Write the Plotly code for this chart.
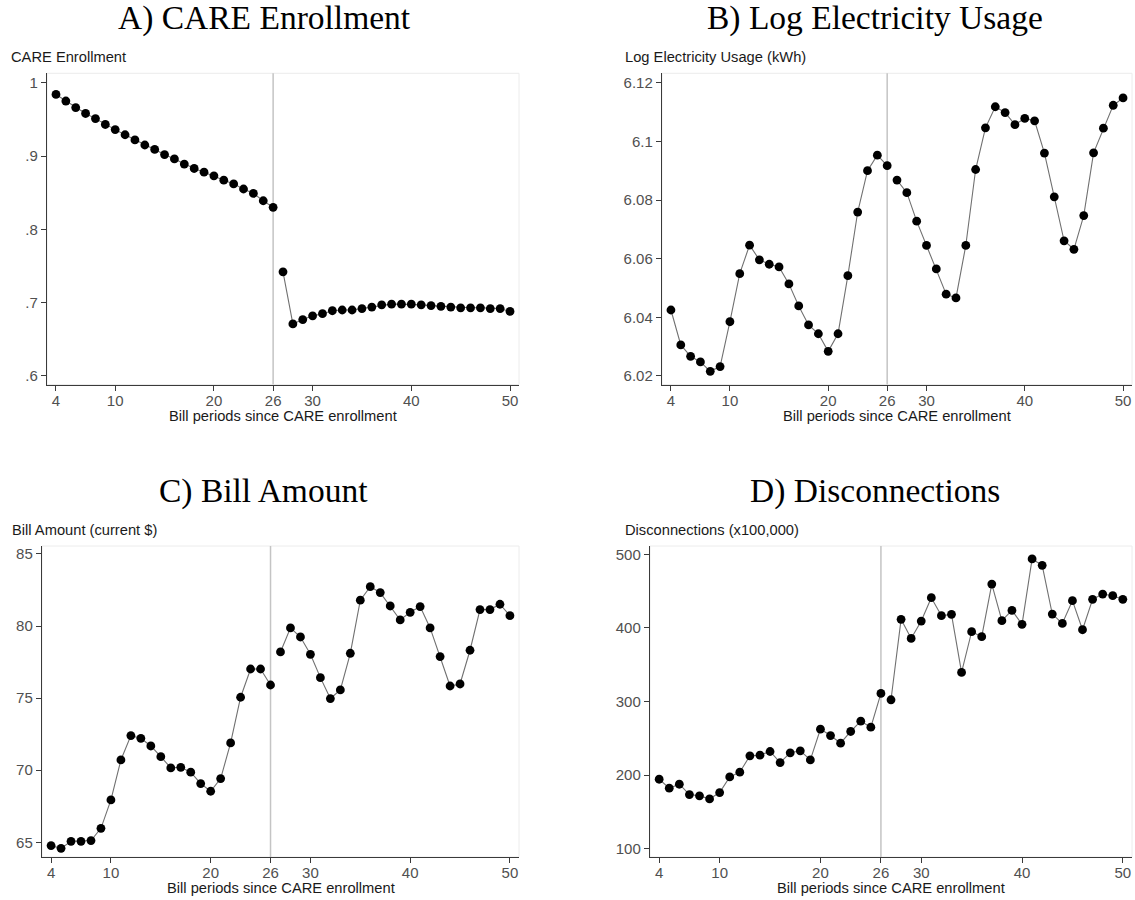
import plotly.graph_objects as go

W, H = 1135, 900

periods = list(range(4, 51))
break_after = 26  # CARE enrollment cut-off period

care_enrollment = [0.984, 0.975, 0.966, 0.958, 0.951, 0.943, 0.936, 0.929, 0.922, 0.915,
                   0.909, 0.902, 0.896, 0.889, 0.883, 0.878, 0.873, 0.867, 0.862, 0.855,
                   0.849, 0.839, 0.830,
                   0.742, 0.671, 0.677, 0.682, 0.685, 0.689, 0.690, 0.690, 0.692, 0.694,
                   0.697, 0.698, 0.698, 0.698, 0.697, 0.696, 0.695, 0.694, 0.693, 0.693,
                   0.693, 0.692, 0.692, 0.688]

log_usage = [6.0425, 6.0306, 6.0267, 6.0248, 6.0216, 6.0232, 6.0385, 6.0549, 6.0646, 6.0596,
             6.0581, 6.0572, 6.0514, 6.0439, 6.0374, 6.0344, 6.0284, 6.0344, 6.0542, 6.0759,
             6.0900, 6.0953, 6.0917,
             6.0868, 6.0825, 6.0728, 6.0645, 6.0565, 6.0479, 6.0466, 6.0645, 6.0904, 6.1046,
             6.1118, 6.1098, 6.1057, 6.1078, 6.1070, 6.0960, 6.0811, 6.0661, 6.0632, 6.0747,
             6.0961, 6.1045, 6.1123, 6.1148]

bill_amount = [64.77, 64.58, 65.07, 65.07, 65.12, 65.97, 67.94, 70.71, 72.40, 72.21,
               71.68, 70.94, 70.16, 70.20, 69.86, 69.07, 68.54, 69.42, 71.89, 75.06,
               77.02, 77.02, 75.91,
               78.20, 79.87, 79.24, 78.04, 76.42, 74.97, 75.57, 78.11, 81.79, 82.73,
               82.32, 81.39, 80.42, 80.95, 81.35, 79.87, 77.88, 75.84, 75.98, 78.32,
               81.14, 81.14, 81.51, 80.72]

disconnections = [194.3, 182.1, 187.5, 173.5, 171.7, 167.6, 176.2, 197.5, 203.9, 226.1,
                  227.0, 232.0, 217.0, 230.2, 232.9, 220.6, 262.4, 253.7, 243.3, 259.2,
                  273.2, 265.1, 310.9,
                  302.3, 411.6, 385.7, 409.3, 441.0, 416.6, 418.4, 339.5, 394.8, 388.0,
                  459.6, 409.8, 423.8, 404.8, 493.7, 485.0, 418.8, 406.1, 437.0, 397.5,
                  438.8, 446.0, 443.8, 438.8]

x_ticks = [4, 10, 20, 26, 30, 40, 50]

panels = [
    dict(title="A) CARE Enrollment", ylab="CARE Enrollment", y=care_enrollment,
         yticks=[1, 0.9, 0.8, 0.7, 0.6], ytext=["1", ".9", ".8", ".7", ".6"],
         yrange=[0.5884, 1.0128],
         box=(47, 519, 73.3, 384.5), title_x=264, title_y=18.5, ylab_x=9, ylab_y=57),
    dict(title="B) Log Electricity Usage", ylab="Log Electricity Usage (kWh)", y=log_usage,
         yticks=[6.12, 6.1, 6.08, 6.06, 6.04, 6.02],
         ytext=["6.12", "6.1", "6.08", "6.06", "6.04", "6.02"],
         yrange=[6.0171, 6.1232],
         box=(662, 1132, 73.3, 384.5), title_x=875, title_y=18.5, ylab_x=623, ylab_y=57),
    dict(title="C) Bill Amount", ylab="Bill Amount (current $)", y=bill_amount,
         yticks=[85, 80, 75, 70, 65], ytext=["85", "80", "75", "70", "65"],
         yrange=[63.98, 85.55],
         box=(42, 519, 546, 857), title_x=263, title_y=490.5, ylab_x=10, ylab_y=530),
    dict(title="D) Disconnections", ylab="Disconnections (x100,000)", y=disconnections,
         yticks=[500, 400, 300, 200, 100], ytext=["500", "400", "300", "200", "100"],
         yrange=[88.6, 511.3],
         box=(650, 1132, 546, 857), title_x=875, title_y=490.5, ylab_x=623, ylab_y=530),
]

AXIS_COL = "#3a3a3a"
SANS = "Liberation Sans, Arial, sans-serif"
TICK_FONT = dict(family=SANS, size=15, color="#505050")
LABEL_FONT = dict(family=SANS, size=14.7, color="#1a1a1a")
TITLE_FONT = dict(family="Liberation Serif, Times New Roman, serif", size=33.5, color="#000000")

fig = go.Figure()
shapes, annotations = [], []
n_pre = periods.index(break_after) + 1

for i, p in enumerate(panels):
    k = "" if i == 0 else str(i + 1)
    xa, ya = "x" + k, "y" + k
    x0, x1, y0, y1 = p["box"]
    xdom = [x0 / W, x1 / W]
    ydom = [1 - y1 / H, 1 - y0 / H]

    # two connected segments: before and after the cut-off
    for seg in (slice(0, n_pre), slice(n_pre, None)):
        fig.add_trace(go.Scatter(
            x=periods[seg], y=p["y"][seg], xaxis=xa, yaxis=ya,
            mode="lines+markers",
            line=dict(color="#707070", width=1.1),
            marker=dict(color="#000000", size=8.8, line=dict(width=0)),
            showlegend=False, hoverinfo="x+y"))

    fig.layout["xaxis" + k] = dict(
        domain=xdom, anchor=ya, range=[3.09, 50.91],
        tickmode="array", tickvals=x_ticks, ticktext=[str(t) for t in x_ticks],
        ticks="outside", ticklen=5, tickwidth=1.2, tickcolor=AXIS_COL,
        ticklabelstandoff=-3,
        showline=True, linecolor=AXIS_COL, linewidth=1.4,
        showgrid=False, zeroline=False, tickfont=TICK_FONT, fixedrange=True)
    fig.layout["yaxis" + k] = dict(
        domain=ydom, anchor=xa, range=p["yrange"],
        tickmode="array", tickvals=p["yticks"], ticktext=p["ytext"],
        ticks="outside", ticklen=5, tickwidth=1.2, tickcolor=AXIS_COL,
        showline=True, linecolor=AXIS_COL, linewidth=1.4,
        showgrid=False, zeroline=False, tickfont=TICK_FONT, fixedrange=True)

    # faint frame around the plot region
    shapes.append(dict(type="rect", xref="paper", yref="paper",
                       x0=xdom[0], x1=xdom[1], y0=ydom[0], y1=ydom[1],
                       line=dict(color="#ececec", width=1), layer="below"))
    # reference line at the cut-off period
    shapes.append(dict(type="line", xref=xa, yref=ya + " domain",
                       x0=break_after, x1=break_after, y0=0, y1=1,
                       line=dict(color="#c4c4c4", width=1.5), layer="below"))

    annotations.append(dict(text=p["title"], x=p["title_x"] / W, y=1 - p["title_y"] / H,
                            xref="paper", yref="paper", xanchor="center", yanchor="middle",
                            showarrow=False, font=TITLE_FONT))
    annotations.append(dict(text=p["ylab"], x=p["ylab_x"] / W, y=1 - p["ylab_y"] / H,
                            xref="paper", yref="paper", xanchor="left", yanchor="middle",
                            showarrow=False, font=LABEL_FONT))
    annotations.append(dict(text="Bill periods since CARE enrollment",
                            x=(x0 + x1) / 2 / W, y=1 - (y1 + 31) / H,
                            xref="paper", yref="paper", xanchor="center", yanchor="middle",
                            showarrow=False, font=LABEL_FONT))

fig.update_layout(width=W, height=H, margin=dict(l=0, r=0, t=0, b=0),
                  paper_bgcolor="white", plot_bgcolor="white",
                  shapes=shapes, annotations=annotations)

fig.write_html("out.html")
